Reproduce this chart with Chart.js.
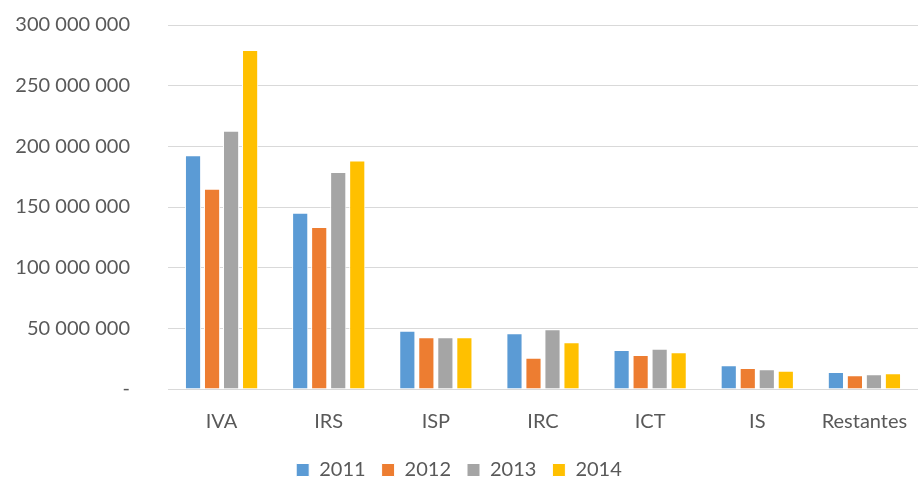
<!DOCTYPE html>
<html>
<head>
<meta charset="utf-8">
<script src="https://cdn.jsdelivr.net/npm/chart.js@4"></script>
<style>
  html, body { margin: 0; padding: 0; background: #fff; }
  #wrap { width: 918px; height: 483px; }
</style>
</head>
<body>
<div id="wrap"><canvas id="c" width="918" height="483"></canvas></div>
<script>
// Data
const categories = ["IVA", "IRS", "ISP", "IRC", "ICT", "IS", "Restantes"];
const years = ["2011", "2012", "2013", "2014"];
const v2011 = [192600000, 145300000, 48000000, 45900000, 32100000, 19500000, 14000000];
const v2012 = [165100000, 133500000, 42600000, 25800000, 28000000, 17300000, 11300000];
const v2013 = [212900000, 178800000, 42600000, 49200000, 33200000, 16200000, 12100000];
const v2014 = [279400000, 188400000, 42600000, 38500000, 30200000, 15100000, 12900000];
const colors = ["#5b9bd5", "#ed7d31", "#a5a5a5", "#ffc000"];

const series = [v2011, v2012, v2013, v2014];
const font = { family: "Lato, 'Open Sans', sans-serif", size: 20 };

function fmt(v) {
    if (v === 0) return "-";
    return String(v).replace(/\B(?=(\d{3})+(?!\d))/g, " ");
}

const chart = new Chart(document.querySelector("#c").getContext("2d"), {
    type: "bar",
    data: {
        labels: categories,
        datasets: series.map((d, i) => ({
            label: years[i],
            data: d,
            backgroundColor: colors[i],
            borderColor: "#ffffff",
            borderWidth: 1,
            categoryPercentage: 0.71,
            barPercentage: 0.85
        }))
    },
    options: {
        responsive: false,
        animation: false,
        layout: { padding: { top: 25, right: 0, bottom: 0, left: 0 } },
        plugins: {
            legend: {
                position: "bottom",
                labels: {
                    color: "#595959",
                    font: font,
                    boxWidth: 13,
                    boxHeight: 13,
                    padding: 16
                }
            },
            tooltip: { enabled: false }
        },
        scales: {
            x: {
                afterFit: s => {
                    s.height = 55;
                    s.paddingLeft = 0;
                    s.paddingRight = 0;
                },
                grid: { display: false },
                border: { color: "#d9d9d9" },
                ticks: { color: "#595959", font: font, padding: 13, maxRotation: 0 }
            },
            y: {
                min: 0,
                max: 300000000,
                afterFit: s => {
                    s.width = 168;
                    s.paddingTop = 0;
                    s.paddingBottom = 0;
                },
                grid: { color: "#d9d9d9", drawTicks: false },
                border: { display: false },
                ticks: {
                    stepSize: 50000000,
                    color: "#595959",
                    font: font,
                    padding: 38,
                    callback: v => fmt(v)
                }
            }
        }
    }
});

// keep the wide gaps between legend items but a short legend box
const legendFit = chart.legend.fit.bind(chart.legend);
chart.legend.fit = function () {
    legendFit();
    this.height = 39;
};
chart.update();
</script>
</body>
</html>
